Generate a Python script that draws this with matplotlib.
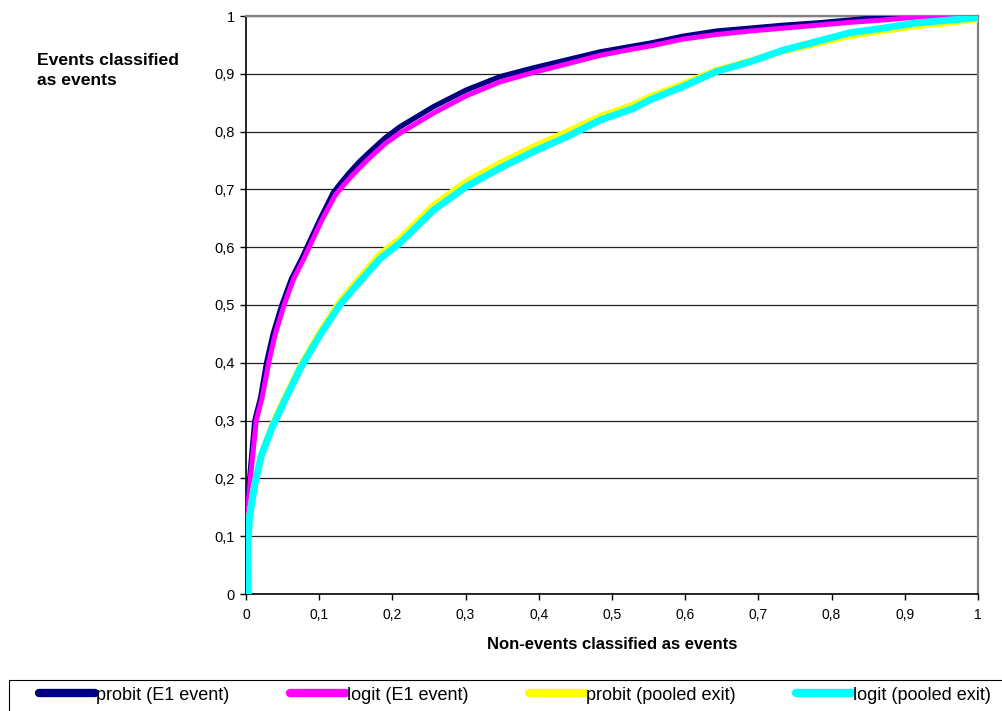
"""
plot.py
ROC-style comparison of probit and logit classifiers (E1 event vs pooled exit).
Writes out.png.
"""

import matplotlib
matplotlib.use("Agg")
import matplotlib.pyplot as plt
from matplotlib.patches import Rectangle
from matplotlib.ticker import FuncFormatter

plt.rcParams.update({
    "font.family": ["Liberation Sans", "DejaVu Sans"],
    "font.size": 10,
})

# Non-events classified as events (x) vs events classified as events (y)
probit_e1_x = [0, 0.005, 0.012, 0.02, 0.028, 0.037, 0.049, 0.062, 0.076, 0.087,
               0.101, 0.119, 0.13, 0.142, 0.155, 0.17, 0.19, 0.21, 0.256, 0.301,
               0.347, 0.392, 0.438, 0.484, 0.529, 0.552, 0.597, 0.643, 0.689,
               0.734, 0.78, 0.825, 0.87, 0.916, 1.0]
probit_e1_y = [0.1, 0.2, 0.3, 0.34, 0.4, 0.45, 0.5, 0.545, 0.58, 0.61,
               0.648, 0.694, 0.712, 0.73, 0.748, 0.766, 0.789, 0.808, 0.843, 0.872,
               0.895, 0.91, 0.924, 0.938, 0.948, 0.953, 0.965, 0.974, 0.979,
               0.984, 0.988, 0.993, 0.998, 1.0, 1.0]

logit_e1_x = [0, 0.006, 0.014, 0.022, 0.031, 0.04, 0.052, 0.065, 0.079, 0.09,
              0.104, 0.122, 0.133, 0.145, 0.158, 0.17, 0.19, 0.21, 0.256, 0.301,
              0.347, 0.392, 0.438, 0.484, 0.529, 0.552, 0.597, 0.643, 0.689,
              0.734, 0.78, 0.825, 0.87, 0.916, 0.94, 1.0]
logit_e1_y = [0.11, 0.2, 0.3, 0.34, 0.4, 0.45, 0.5, 0.545, 0.58, 0.61,
              0.648, 0.69, 0.707, 0.724, 0.741, 0.756, 0.779, 0.797, 0.832, 0.862,
              0.886, 0.902, 0.917, 0.932, 0.943, 0.948, 0.96, 0.968, 0.974,
              0.979, 0.984, 0.989, 0.993, 0.998, 1.0, 1.0]

pooled_x = [0.003, 0.002, 0.005, 0.012, 0.021, 0.035, 0.051, 0.074, 0.101, 0.128,
            0.155, 0.183, 0.21, 0.256, 0.301, 0.347, 0.392, 0.438, 0.484, 0.529,
            0.552, 0.597, 0.643, 0.689, 0.734, 0.78, 0.825, 0.87, 0.916, 0.961, 1.0]
logit_pooled_y = [0, 0.08, 0.135, 0.19, 0.24, 0.286, 0.33, 0.39, 0.448, 0.5,
                  0.54, 0.58, 0.607, 0.664, 0.705, 0.737, 0.765, 0.791, 0.82, 0.84,
                  0.855, 0.878, 0.904, 0.921, 0.941, 0.956, 0.971, 0.979, 0.988, 0.993, 0.997]
probit_pooled_y = [0, 0.08, 0.135, 0.19, 0.24, 0.288, 0.333, 0.393, 0.452, 0.505,
                   0.546, 0.587, 0.614, 0.672, 0.713, 0.745, 0.773, 0.799, 0.826, 0.846,
                   0.86, 0.882, 0.906, 0.922, 0.94, 0.953, 0.966, 0.975, 0.983, 0.989, 0.995]

ticks = [0, 0.1, 0.2, 0.3, 0.4, 0.5, 0.6, 0.7, 0.8, 0.9, 1]

fig = plt.figure(figsize=(10.02, 7.11), dpi=100)
ax = fig.add_axes([246 / 1002, 1 - 594 / 711, 732 / 1002, 578 / 711])

ax.plot(probit_e1_x, probit_e1_y, color="#000080", lw=3.8, label="probit (E1 event)",
        solid_capstyle="round", zorder=3)
ax.plot(logit_e1_x, logit_e1_y, color="#FF00FF", lw=3.6, label="logit (E1 event)",
        solid_capstyle="round", zorder=4)
ax.plot(pooled_x, probit_pooled_y, color="#FFFF00", lw=5.0, label="probit (pooled exit)",
        solid_capstyle="round", zorder=5)
ax.plot(pooled_x, logit_pooled_y, color="#00FFFF", lw=5.0, label="logit (pooled exit)",
        solid_capstyle="round", zorder=6)

ax.set_xlim(0, 1)
ax.set_ylim(0, 1)
ax.set_xticks(ticks)
ax.set_yticks(ticks)
fmt = FuncFormatter(lambda v, _: f"{v:g}".replace(".", ","))
ax.xaxis.set_major_formatter(fmt)
ax.yaxis.set_major_formatter(fmt)
ax.tick_params(direction="out", length=4, width=1, color="black", labelsize=10.5, pad=4)
ax.tick_params(axis="x", pad=6, labelsize=10)
ax.yaxis.grid(True, color="#222222", lw=0.9)
ax.set_axisbelow(True)
for side in ("left", "bottom"):
    ax.spines[side].set_color("black")
    ax.spines[side].set_linewidth(1.2)
for side in ("top", "right"):
    ax.spines[side].set_color("#808080")
    ax.spines[side].set_linewidth(1.6)

ax.set_xlabel("Non-events classified as events", fontsize=12, fontweight="bold",
              labelpad=11)
fig.text(37 / 1002, 1 - 53 / 711, "Events classified\nas events", fontsize=12.6,
         fontweight="bold", ha="left", va="top", linespacing=1.4)

# legend box runs off the bottom/right edge of the picture
fig.patches.append(Rectangle((9 / 1002, -0.1), 1.1, 0.1 + (711 - 680) / 711,
                             transform=fig.transFigure, fill=False,
                             edgecolor="black", lw=0.8))
handles, labels = ax.get_legend_handles_labels()
leg = fig.legend(handles, labels, ncol=4, frameon=False, loc="center left",
                 bbox_to_anchor=(32 / 1002, 1 - 695 / 711), fontsize=13,
                 handlelength=3.1, handletextpad=0.05, columnspacing=3.35,
                 borderaxespad=0)
for line in leg.get_lines():
    line.set_linewidth(6)
    line.set_solid_capstyle("round")

fig.savefig("out.png", dpi=100)
